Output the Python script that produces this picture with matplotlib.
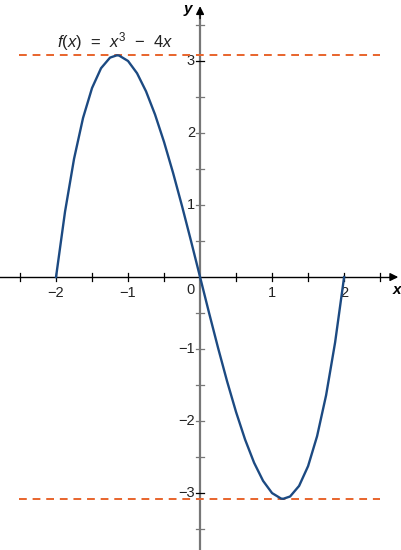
import matplotlib.pyplot as plt

plt.rcParams['font.family'] = ['Liberation Sans', 'DejaVu Sans']
plt.rcParams['mathtext.fontset'] = 'custom'
plt.rcParams['mathtext.rm'] = 'Liberation Sans'
plt.rcParams['mathtext.it'] = 'Liberation Sans:italic'

x_pts = [-2, -1.875, -1.75, -1.625, -1.5, -1.375, -1.25, -1.155, -1.125, -1,
         -0.875, -0.75, -0.625, -0.5, -0.375, -0.25, -0.125, 0,
         0.125, 0.25, 0.375, 0.5, 0.625, 0.75, 0.875, 1,
         1.125, 1.155, 1.25, 1.375, 1.5, 1.625, 1.75, 1.875, 2]
y_pts = [0, 0.908, 1.641, 2.209, 2.625, 2.900, 3.047, 3.079, 3.076, 3.0,
         2.830, 2.578, 2.256, 1.875, 1.447, 0.984, 0.498, 0,
         -0.498, -0.984, -1.447, -1.875, -2.256, -2.578, -2.830, -3.0,
         -3.076, -3.079, -3.047, -2.900, -2.625, -2.209, -1.641, -0.908, 0]

h_lines = [3.079, -3.079]
x_ticks = [-2.5, -2, -1.5, -1, -0.5, 0.5, 1, 1.5, 2, 2.5]
x_labels = [-2, -1, 1, 2]
y_ticks = [-3.5, -3, -2.5, -2, -1.5, -1, -0.5, 0.5, 1, 1.5, 2, 2.5, 3, 3.5]
y_labels = [-3, -2, -1, 1, 2, 3]

fig = plt.figure(figsize=(4.01, 5.5), dpi=100)
ax = fig.add_axes([0, 0, 1, 1])
ax.set_xlim(-2.778, 2.79)
ax.set_ylim(-3.79, 3.847)
ax.axis('off')

# axes
ax.plot([-2.78, 2.70], [0, 0], color='black', lw=1.0, zorder=2)
ax.plot([0, 0], [-3.8, 3.65], color='#777777', lw=1.6, zorder=2)
ax.annotate('', xy=(2.79, 0), xytext=(2.6, 0),
            arrowprops=dict(arrowstyle='-|>', color='black', lw=1.0,
                            mutation_scale=12))
ax.annotate('', xy=(0, 3.80), xytext=(0, 3.55),
            arrowprops=dict(arrowstyle='-|>', color='black', lw=1.0,
                            mutation_scale=12))
ax.text(2.74, -0.08, 'x', fontsize=11, fontweight='bold', style='italic',
        ha='center', va='top')
ax.text(-0.17, 3.72, 'y', fontsize=11, fontweight='bold', style='italic',
        ha='center', va='center')

tk = 0.055
for t in x_ticks:
    ax.plot([t, t], [-tk, tk], color='black', lw=0.9, zorder=2)
for t in y_ticks:
    ax.plot([-tk, tk], [t, t], color='#777777' if abs(t) != 3 else 'black',
            lw=0.9, zorder=2)
for v in x_labels:
    ax.text(v, -0.12, '\u2212%d' % -v if v < 0 else str(v), fontsize=10.5,
            ha='center', va='top', color='#222222')
for v in y_labels:
    ax.text(-0.07, v, '\u2212%d' % -v if v < 0 else str(v), fontsize=10.5,
            ha='right', va='center', color='#222222')
ax.text(-0.07, -0.08, '0', fontsize=10.5, ha='right', va='top', color='#222222')

# horizontal dashed lines
for h in h_lines:
    ax.plot([-2.52, 2.5], [h, h], color='#e8642c', lw=1.4,
            dashes=(4, 3), zorder=3)

ax.plot(x_pts, y_pts, color='#1c4a82', lw=1.7, zorder=4)

ax.text(-1.18, 3.27, '$f(x)$  =  $x^3$  \u2212  4$x$',
        fontsize=12, ha='center', va='center', color='#222222')

fig.savefig('out.png', dpi=100)
